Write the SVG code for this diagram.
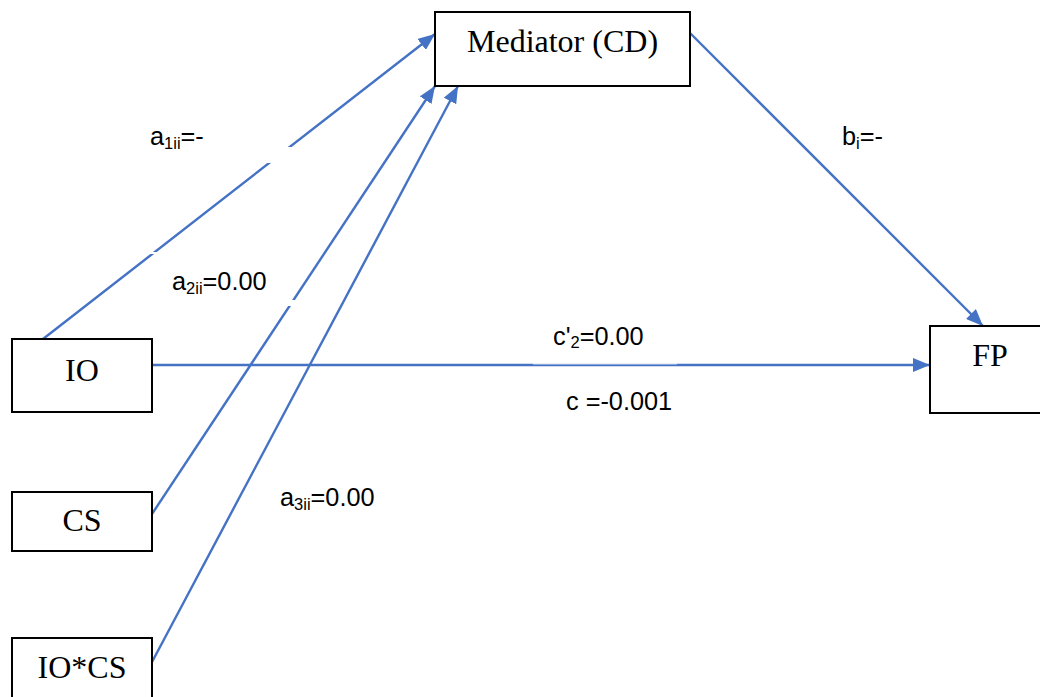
<svg xmlns="http://www.w3.org/2000/svg" width="1040" height="697" viewBox="0 0 1040 697">
<style>
.box{fill:#fff;stroke:#000;stroke-width:2}
.nt{font-family:"Liberation Serif","Times New Roman",serif;font-size:32px;fill:#000;text-anchor:middle}
.conn{stroke:#4472C4;stroke-width:2.4;fill:none;marker-end:url(#ah)}
.lb{font-family:"Liberation Sans",Arial,sans-serif;font-size:25.3px;fill:#000}
.sub{font-size:16.5px}
.gap{fill:#fff}
</style>
<defs>
<marker id="ah" markerUnits="userSpaceOnUse" markerWidth="18" markerHeight="14" refX="17" refY="7" orient="auto">
<path d="M0,0 L17,7 L0,14 z" fill="#4472C4"/>
</marker>
</defs>
<rect width="1040" height="697" fill="#fff"/>
<g id="connectors">
<line class="conn" x1="43" y1="339" x2="435" y2="34"/>
<line class="conn" x1="152" y1="514" x2="435" y2="86"/>
<line class="conn" x1="152" y1="662" x2="458" y2="86"/>
<line class="conn" x1="690" y1="33" x2="983" y2="326"/>
<line class="conn" x1="152" y1="365" x2="930" y2="365"/>
</g>
<g id="labels">
<rect class="gap" x="262" y="147" width="40" height="16"/>
<rect class="gap" x="148" y="252" width="10" height="2"/>
<rect class="gap" x="282" y="300" width="14" height="6"/>
<rect class="gap" x="533" y="330" width="144" height="34.6" opacity="0.6"/>
<text class="lb" x="150" y="145">a<tspan class="sub" dy="4">1ii</tspan><tspan dy="-4">=-</tspan></text>
<text class="lb" x="172" y="290">a<tspan class="sub" dy="4">2ii</tspan><tspan dy="-4">=0.00</tspan></text>
<text class="lb" x="280" y="506">a<tspan class="sub" dy="4">3ii</tspan><tspan dy="-4">=0.00</tspan></text>
<text class="lb" x="553" y="345">c'<tspan class="sub" dy="3">2</tspan><tspan dy="-3">=0.00</tspan></text>
<text class="lb" x="566" y="410">c =-0.001</text>
<text class="lb" x="842" y="145">b<tspan class="sub" dy="4">i</tspan><tspan dy="-4">=-</tspan></text>
</g>
<g id="mediator">
<rect class="box" x="435" y="12" width="255" height="74"/>
<text class="nt" x="562.5" y="52">Mediator (CD)</text>
</g>
<g id="io">
<rect class="box" x="12" y="339" width="140" height="73"/>
<text class="nt" x="82" y="381">IO</text>
</g>
<g id="cs">
<rect class="box" x="12" y="492" width="140" height="59"/>
<text class="nt" x="82" y="531">CS</text>
</g>
<g id="ioxcs">
<rect class="box" x="12" y="638" width="140" height="70"/>
<text class="nt" x="82" y="678">IO*CS</text>
</g>
<g id="fp">
<rect class="box" x="930" y="326" width="120" height="87"/>
<text class="nt" x="990" y="366">FP</text>
</g>
</svg>
